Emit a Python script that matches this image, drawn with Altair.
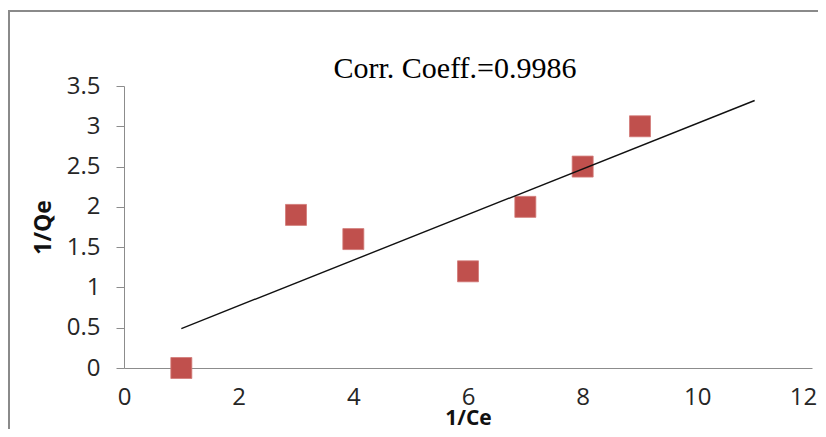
import altair as alt
import pandas as pd

# Data
x_vals = [1, 3, 4, 6, 7, 8, 9]
y_vals = [0, 1.9, 1.6, 1.2, 2.0, 2.5, 3.0]
x_ticks = [0, 2, 4, 6, 8, 10, 12]
y_ticks = [0, 0.5, 1, 1.5, 2, 2.5, 3, 3.5]
trend_extent = [1, 11]
title_text = ["Corr. Coeff.=0.9986"]
x_title = "1/Ce"
y_title = "1/Qe"

df = pd.DataFrame({"x": x_vals, "y": y_vals})

xs = alt.Scale(domain=[0, 12], nice=False, zero=False)
ys = alt.Scale(domain=[0, 3.5], nice=False)

AXIS_GRAY = "#8c8c8c"
LABEL_COLOR = "#262626"
FONT = "Open Sans"

x_axis = alt.Axis(
    values=x_ticks, format="d", title=x_title, grid=False,
    ticks=False, tickSize=0, labelPadding=36, labelBaseline="alphabetic",
    labelFlush=False,
    labelOffset=alt.ExprRef(expr="datum.value == 12 ? -9 : 0"),
    labelFont=FONT, labelFontSize=24, labelColor=LABEL_COLOR,
    domainColor=AXIS_GRAY, domainWidth=1,
    titleFont=FONT, titleFontWeight="bold", titleFontSize=21, titleColor="#111",
    titleX=344, titleY=56, titleBaseline="alphabetic", titleAlign="center",
)
y_axis = alt.Axis(
    values=y_ticks, format="~g", title=y_title, grid=False,
    ticks=True, tickSize=8, tickColor=AXIS_GRAY, labelPadding=16,
    labelFlush=False,
    labelFont=FONT, labelFontSize=24, labelColor=LABEL_COLOR,
    domainColor=AXIS_GRAY, domainWidth=1,
    titleFont=FONT, titleFontWeight="bold", titleFontSize=23, titleColor="#111",
    titleAngle=270, titleX=-81, titleY=141, titleBaseline="middle", titleAlign="center",
)

base = alt.Chart(df)

frame = alt.Chart(pd.DataFrame({"d": [0]})).mark_rect(
    fillOpacity=0, stroke="#8a8a8a", strokeWidth=2
).encode(
    x=alt.value(-115), x2=alt.value(900), y=alt.value(-75), y2=alt.value(600)
)

title = alt.Chart(pd.DataFrame({"t": title_text})).mark_text(
    font="Liberation Serif", fontSize=30, color="#000",
    align="center", baseline="alphabetic"
).encode(text="t:N", x=alt.value(331), y=alt.value(-8))

points = base.mark_point(
    shape="square", filled=True, size=441, color="#C0504D", opacity=1,
    stroke="#D27a77", strokeWidth=0.8
).encode(
    x=alt.X("x:Q", scale=xs, axis=x_axis),
    y=alt.Y("y:Q", scale=ys, axis=y_axis),
)

trend = base.transform_regression(
    "x", "y", extent=trend_extent
).mark_line(color="#111111", strokeWidth=1.4).encode(
    x=alt.X("x:Q", scale=xs),
    y=alt.Y("y:Q", scale=ys),
)

chart = alt.layer(frame, title, points, trend).properties(
    width=688, height=282,
    autosize=alt.AutoSizeParams(type="none"),
    padding={"left": 116, "top": 78, "right": 6, "bottom": 61},
    background="white",
).configure_view(stroke=None)

chart.save("out.html", embed_options={"renderer": "svg", "actions": False})
